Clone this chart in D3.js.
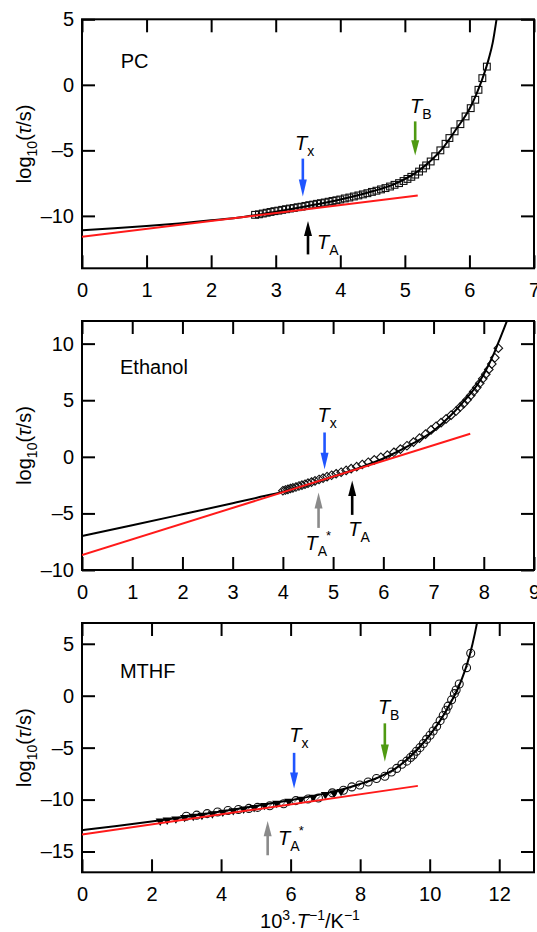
<!DOCTYPE html>
<html><head><meta charset="utf-8">
<script src="https://cdn.jsdelivr.net/npm/d3@7"></script>
<style>
body{margin:0;background:#fff}
svg{display:block}
text{font-family:"Liberation Sans",Arial,Helvetica,sans-serif;fill:#000}
</style>
</head><body>
<svg id="c" width="537" height="932"></svg>
<script>
// ---------------- DATA ----------------
// PC
const pcCurveX = [0,0.5,1,1.5,2,2.5,3,3.5,4,4.5,4.8,5.0,5.2,5.4,5.6,5.8,6.0,6.1,6.2,6.3,6.36,6.42];
const pcCurveY = [-11.1,-10.95,-10.78,-10.58,-10.34,-10.08,-9.68,-9.24,-8.75,-8.12,-7.65,-7.2,-6.6,-5.8,-4.75,-3.35,-1.85,-0.8,0.45,2.0,3.2,5.0];
const pcRedX = [0, 5.2];
const pcRedY = [-11.6, -8.45];
const pcX = [2.68,2.74,2.80,2.86,2.92,2.98,3.04,3.10,3.16,3.22,3.28,3.34,3.40,3.46,3.52,3.58,3.64,3.70,3.76,3.82,3.88,3.94,4.00,4.07,4.14,4.21,4.28,4.35,4.42,4.49,4.56,4.63,4.70,4.77,4.84,4.91,4.98,5.04,5.10,5.16,5.22,5.28,5.33,5.40,5.47,5.55,5.63,5.69,5.77,5.86,5.94,6.02,6.09,6.14,6.20,6.27];
const pcY = [-9.92,-9.88,-9.82,-9.76,-9.70,-9.64,-9.60,-9.54,-9.49,-9.44,-9.40,-9.34,-9.30,-9.24,-9.18,-9.14,-9.08,-9.03,-8.98,-8.92,-8.86,-8.81,-8.75,-8.67,-8.60,-8.52,-8.44,-8.36,-8.27,-8.17,-8.08,-7.98,-7.88,-7.76,-7.63,-7.50,-7.34,-7.18,-7.02,-6.85,-6.62,-6.38,-6.15,-5.85,-5.45,-5.00,-4.50,-4.06,-3.55,-3.00,-2.41,-1.78,-1.14,-0.38,0.51,1.39];
const pcXTicks = [0,1,2,3,4,5,6,7];
const pcYTicks = [-10,-5,0,5];

// Ethanol
const etCurveX = [0,1,2,3,3.5,4,4.5,5,5.5,6,6.6,7.0,7.33,7.6,7.86,8.0,8.19,8.3,8.4,8.46];
const etCurveY = [-7.0,-6.05,-5.08,-4.1,-3.6,-3.08,-2.45,-1.75,-1.0,-0.15,1.2,2.3,3.6,4.9,6.3,7.3,9.0,10.2,11.3,12.0];
const etRedX = [0, 7.73];
const etRedY = [-8.67, 2.04];
const etX = [4.00,4.05,4.10,4.15,4.20,4.26,4.32,4.38,4.44,4.50,4.57,4.64,4.72,4.80,4.88,4.97,5.06,5.16,5.26,5.36,5.47,5.58,5.70,5.82,5.95,6.08,6.21,6.34,6.47,6.60,6.72,6.84,6.95,7.05,7.15,7.25,7.35,7.45,7.53,7.60,7.67,7.74,7.80,7.86,7.92,7.98,8.04,8.10,8.16,8.22,8.29];
const etY = [-3.0,-2.93,-2.87,-2.8,-2.74,-2.67,-2.58,-2.5,-2.42,-2.33,-2.23,-2.13,-2.0,-1.88,-1.75,-1.63,-1.5,-1.36,-1.2,-1.04,-0.87,-0.68,-0.48,-0.27,-0.04,0.15,0.4,0.68,0.98,1.3,1.65,2.0,2.38,2.7,3.02,3.35,3.68,4.05,4.4,4.7,5.05,5.42,5.77,6.12,6.5,6.9,7.3,7.72,8.2,8.75,9.6];
const etXTicks = [0,1,2,3,4,5,6,7,8,9];
const etYTicks = [-10,-5,0,5,10];

// MTHF
const mtCurveX = [0,1,2,3,4,5,6,7,7.5,8.0,8.5,9.0,9.5,9.8,10.0,10.3,10.6,10.8,11.0,11.15,11.3,11.36];
const mtCurveY = [-12.95,-12.55,-12.12,-11.65,-11.15,-10.62,-10.05,-9.4,-9.0,-8.5,-7.9,-7.05,-5.65,-4.6,-3.8,-2.4,-0.7,0.6,2.3,3.9,6.0,7.0];
const mtRedX = [0, 9.66];
const mtRedY = [-13.37, -8.68];
const mtCircX = [3.0,3.3,3.6,3.9,4.2,4.5,4.8,5.05,5.4,5.8,6.15,6.5,6.8,7.2,7.52,7.76,7.99,8.23,8.47,8.71,8.9,9.05,9.2,9.34,9.45,9.53,9.62,9.72,9.82,9.91,10.01,10.1,10.2,10.3,10.39,10.47,10.53,10.63,10.71,10.76,10.85,11.06,11.18];
const mtCircY = [-11.6,-11.5,-11.35,-11.2,-11.05,-10.95,-10.85,-10.75,-10.6,-10.4,-10.1,-9.95,-9.85,-9.35,-9.1,-8.78,-8.6,-8.3,-7.97,-7.75,-7.35,-7.0,-6.6,-6.3,-5.95,-5.7,-5.35,-5.0,-4.6,-4.2,-3.8,-3.4,-2.95,-2.4,-1.9,-1.4,-1.0,-0.4,0.2,0.55,1.13,2.7,4.09];
const mtTriX = [2.25,2.45,2.7,2.95,3.2,3.45,3.75,4.05,4.35,4.65,4.95,5.25,5.6,5.95,6.3,6.65,7.0,7.25,7.45];
const mtTriY = [-12.15,-12.05,-11.95,-11.8,-11.7,-11.6,-11.45,-11.3,-11.15,-11.0,-10.85,-10.65,-10.45,-10.25,-10.05,-9.85,-9.6,-9.45,-9.3];
const mtXTicks = [0,2,4,6,8,10,12];
const mtYTicks = [-15,-10,-5,0,5];

// Annotations (data units): arrow x, tail y, tip y; label start x, baseline y
const pcMarks = [
  {kind:"Tx", x:3.42, y0:-5.63, y1:-8.52, lx:3.30, ly:-4.95, sub:"x"},
  {kind:"TB", x:5.16, y0:-2.79, y1:-5.40, lx:5.08, ly:-2.16, sub:"B"},
  {kind:"TA", x:3.50, y0:-12.94, y1:-10.40, lx:3.64, ly:-12.5, sub:"A"}
];
const etMarks = [
  {kind:"Tx", x:4.83, y0:2.15, y1:-1.09, lx:4.69, ly:3.04, sub:"x"},
  {kind:"TAs", x:4.71, y0:-6.28, y1:-3.16, lx:4.45, ly:-8.23, sub:"A", star:true},
  {kind:"TA", x:5.38, y0:-5.13, y1:-2.10, lx:5.30, ly:-6.99, sub:"A"}
];
const mtMarks = [
  {kind:"Tx", x:6.10, y0:-5.5, y1:-8.93, lx:5.96, ly:-4.44, sub:"x"},
  {kind:"TB", x:8.71, y0:-2.66, y1:-6.36, lx:8.51, ly:-1.8, sub:"B"},
  {kind:"TAs", x:5.34, y0:-15.36, y1:-12.05, lx:5.64, ly:-14.4, sub:"A", star:true}
];
const panelNames = ["PC","Ethanol","MTHF"];
const panelNamePos = [[0.60,1.27],[0.757,7.35],[1.09,1.74]];

// ---------------- DRAW ----------------
const svg = d3.select("#c");
const L = 82, R = 534;
const colors = {Tx:"#1f55ff", TB:"#4f9a12", TA:"#000000", TAs:"#8a8a8a"};
const zip = (a,b) => a.map((v,i)=>[v,b[i]]);

const panels = [
  {top:19.3, bottom:268.3, xd:[0,7], yd:[-14,5], xt:pcXTicks, yt:pcYTicks,
   curve:zip(pcCurveX,pcCurveY), red:zip(pcRedX,pcRedY), marks:pcMarks,
   pts:[{type:"square", d:zip(pcX,pcY)}]},
  {top:321, bottom:570, xd:[0,9], yd:[-10,12], xt:etXTicks, yt:etYTicks,
   curve:zip(etCurveX,etCurveY), red:zip(etRedX,etRedY), marks:etMarks,
   pts:[{type:"diamond", d:zip(etX,etY)}]},
  {top:623, bottom:872.3, xd:[0,13], yd:[-17,7], xt:mtXTicks, yt:mtYTicks,
   curve:zip(mtCurveX,mtCurveY), red:zip(mtRedX,mtRedY), marks:mtMarks,
   pts:[{type:"circle", d:zip(mtCircX,mtCircY)},{type:"tri", d:zip(mtTriX,mtTriY)}]}
];

const fmt = d => d < 0 ? "\u2013" + Math.abs(d) : String(d);

panels.forEach((p, i) => {
  const x = d3.scaleLinear().domain(p.xd).range([L, R]);
  const y = d3.scaleLinear().domain(p.yd).range([p.bottom, p.top]);
  const g = svg.append("g");
  const cid = "clip" + i;
  svg.append("clipPath").attr("id", cid).append("rect")
    .attr("x", L).attr("y", p.top).attr("width", R - L).attr("height", p.bottom - p.top);

  const tk = 13;
  g.append("g").attr("transform", `translate(0,${p.bottom})`)
    .call(d3.axisBottom(x).tickValues(p.xt).tickSize(-tk).tickPadding(15).tickFormat(fmt));
  g.append("g").attr("transform", `translate(0,${p.top})`)
    .call(d3.axisTop(x).tickValues(p.xt).tickSize(-tk).tickFormat(""));
  g.append("g").attr("transform", `translate(${L},0)`)
    .call(d3.axisLeft(y).tickValues(p.yt).tickSize(-tk).tickPadding(8).tickFormat(fmt));
  g.append("g").attr("transform", `translate(${R},0)`)
    .call(d3.axisRight(y).tickValues(p.yt).tickSize(-tk).tickFormat(""));
  g.selectAll(".domain").remove();
  g.selectAll(".tick line").attr("stroke", "#000").attr("stroke-width", 2);
  g.selectAll(".tick text").attr("font-size", 20).attr("fill", "#000")
    .style("font-family", '"Liberation Sans",Arial,sans-serif');

  g.append("rect").attr("x", L).attr("y", p.top).attr("width", R - L)
    .attr("height", p.bottom - p.top).attr("fill", "none")
    .attr("stroke", "#000").attr("stroke-width", 2);

  const pg = g.append("g").attr("clip-path", `url(#${cid})`);
  p.pts.forEach(s => {
    const sel = pg.append("g").selectAll("g").data(s.d).join("g")
      .attr("transform", d => `translate(${x(d[0])},${y(d[1])})`);
    if (s.type === "square") {
      sel.append("rect").attr("x", -3.4).attr("y", -3.4).attr("width", 6.8).attr("height", 6.8)
        .attr("fill", "none").attr("stroke", "#111").attr("stroke-width", 1.1);
    } else if (s.type === "diamond") {
      sel.append("path").attr("d", "M0,-4.3L4.3,0L0,4.3L-4.3,0Z")
        .attr("fill", "none").attr("stroke", "#111").attr("stroke-width", 1.1);
    } else if (s.type === "circle") {
      sel.append("circle").attr("r", 4).attr("fill", "none")
        .attr("stroke", "#111").attr("stroke-width", 1.1);
      sel.append("path").attr("d", "M-1.8,1.8L1.8,-1.8").attr("stroke", "#333").attr("stroke-width", 0.9);
    } else if (s.type === "tri") {
      sel.append("path").attr("d", "M-4.6,-3.4L4.6,-3.4L0,4Z").attr("fill", "#000");
    }
  });
  const line = d3.line().x(d => x(d[0])).y(d => y(d[1])).curve(d3.curveMonotoneX);
  pg.append("path").attr("d", line(p.curve)).attr("fill", "none")
    .attr("stroke", "#000").attr("stroke-width", 2);
  pg.append("path").attr("d", d3.line().x(d => x(d[0])).y(d => y(d[1]))(p.red))
    .attr("fill", "none").attr("stroke", "#ff1a1a").attr("stroke-width", 2);

  p.marks.forEach(m => {
    const c = colors[m.kind];
    const ax0 = x(m.x), ty = y(m.y0), hy = y(m.y1);
    const dir = hy > ty ? 1 : -1;
    const len = Math.abs(hy - ty);
    const hl = len * 0.45, hw = 4;
    g.append("line").attr("x1", ax0).attr("x2", ax0).attr("y1", ty).attr("y2", hy - dir * hl + dir)
      .attr("stroke", c).attr("stroke-width", 2.6);
    g.append("path").attr("d", `M${ax0 - hw},${hy - dir * hl}L${ax0 + hw},${hy - dir * hl}L${ax0},${hy}Z`)
      .attr("fill", c);
    const t = g.append("text").attr("x", x(m.lx)).attr("y", y(m.ly)).attr("font-size", 20);
    t.append("tspan").text("T").attr("font-style", "italic");
    t.append("tspan").text(m.sub).attr("font-size", 14).attr("dy", 6).attr("dx", 0);
    if (m.star) t.append("tspan").text("*").attr("font-size", 13).attr("dy", -16).attr("dx", -1);
  });

  g.append("text").attr("x", x(panelNamePos[i][0])).attr("y", y(panelNamePos[i][1]))
    .attr("font-size", 20).text(panelNames[i]);

  const cy = (p.top + p.bottom) / 2;
  const yt = g.append("text").attr("transform", `translate(31,${cy}) rotate(-90)`)
    .attr("text-anchor", "middle").attr("font-size", 20);
  yt.append("tspan").text("log");
  yt.append("tspan").text("10").attr("font-size", 14).attr("dy", 6);
  yt.append("tspan").text("(").attr("dy", -6);
  yt.append("tspan").text("\u03c4").attr("font-style", "italic");
  yt.append("tspan").text("/s)");
});

const xt = svg.append("text").attr("x", (L + R) / 2 + 2).attr("y", 928)
  .attr("text-anchor", "middle").attr("font-size", 20);
xt.append("tspan").text("10");
xt.append("tspan").text("3").attr("font-size", 14).attr("dy", -8);
xt.append("tspan").text("\u00b7").attr("dy", 8);
xt.append("tspan").text("T").attr("font-style", "italic");
xt.append("tspan").text("\u22121").attr("font-size", 14).attr("dy", -8);
xt.append("tspan").text("/K").attr("dy", 8);
xt.append("tspan").text("\u22121").attr("font-size", 14).attr("dy", -8);
</script>
</body></html>
